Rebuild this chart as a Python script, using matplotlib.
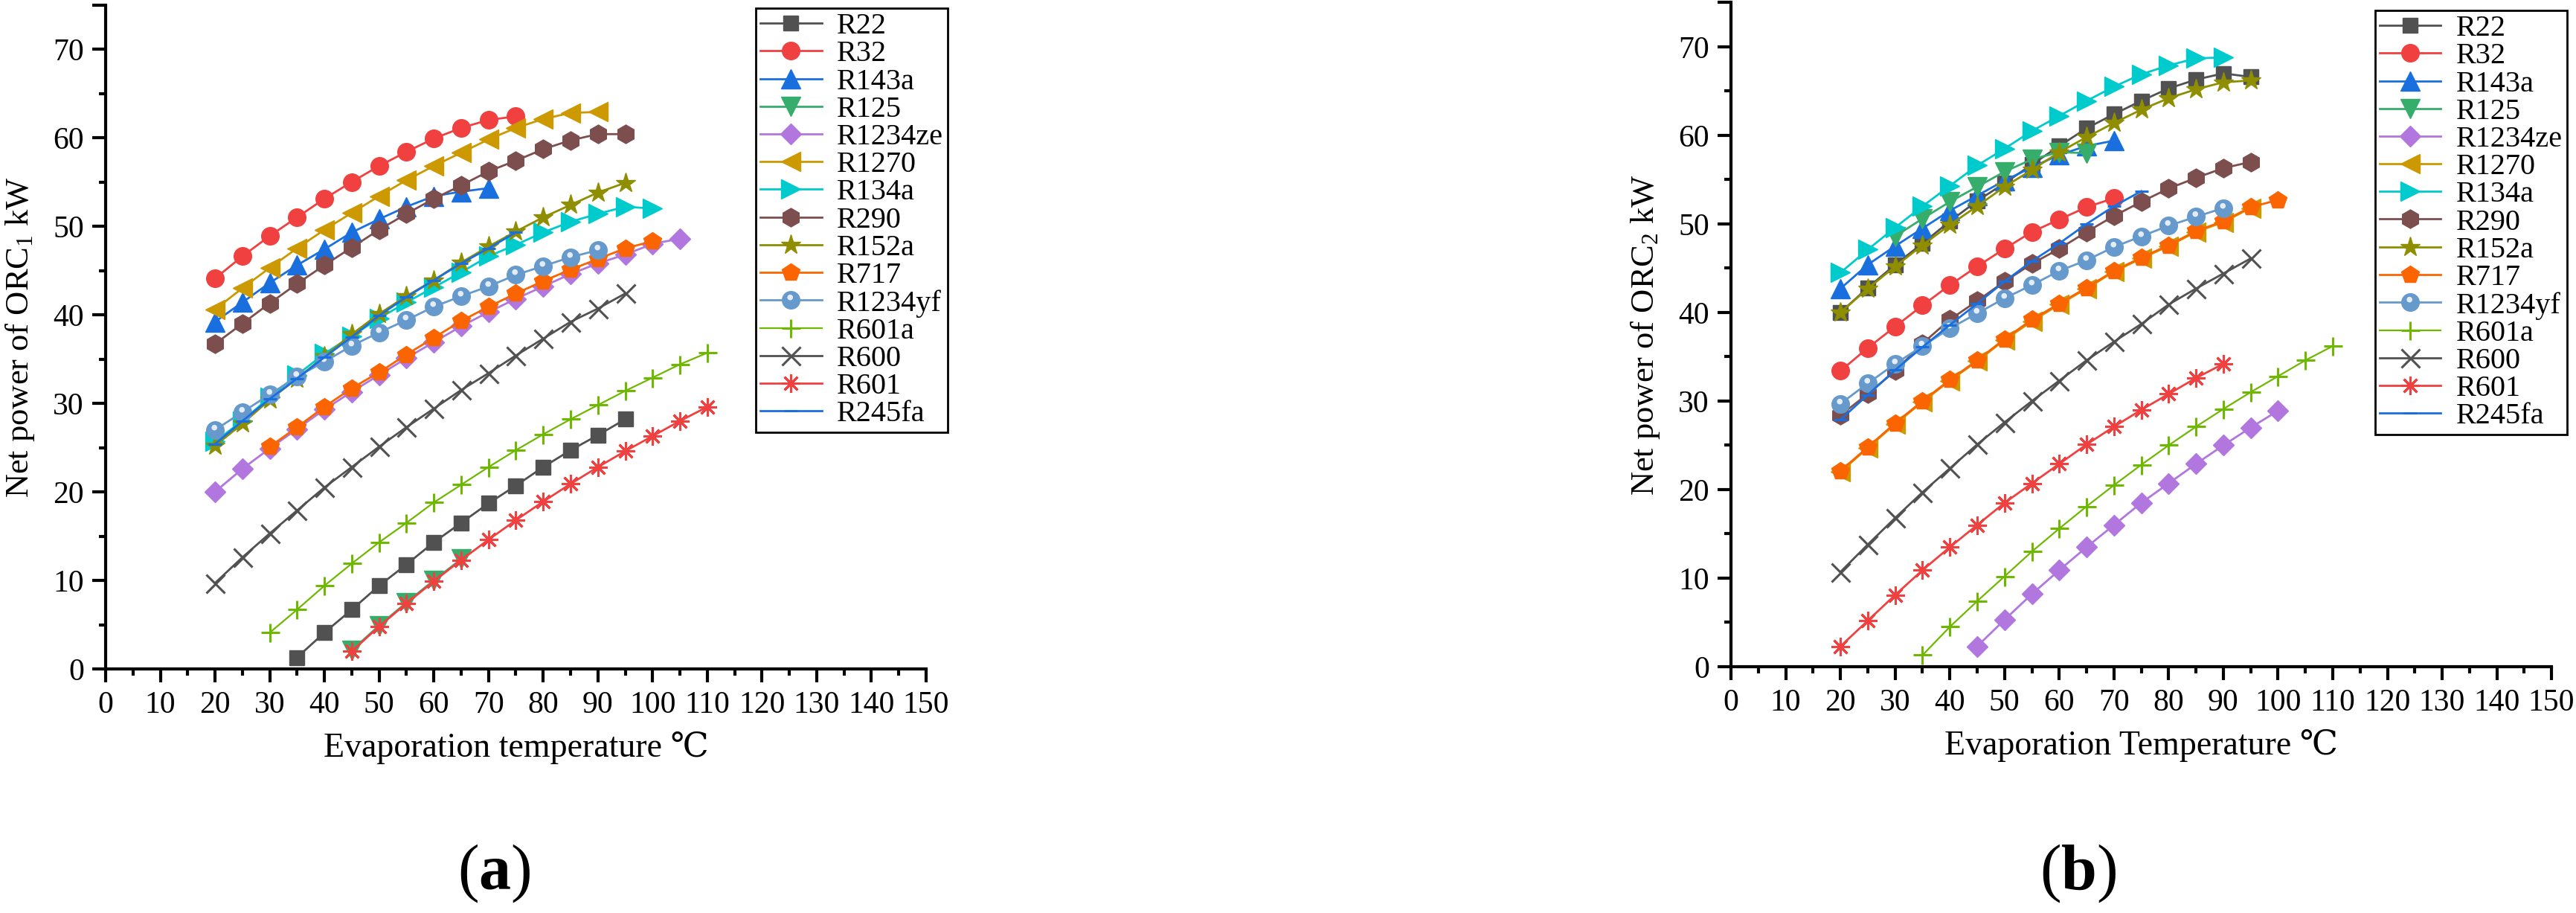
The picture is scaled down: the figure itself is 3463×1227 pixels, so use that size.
import matplotlib
matplotlib.use('Agg')
import matplotlib.pyplot as plt
from matplotlib.path import Path
from matplotlib.ticker import MultipleLocator

plt.rcParams['font.family'] = ['Liberation Serif', 'DejaVu Serif']
plt.rcParams['mathtext.fontset'] = 'custom'
plt.rcParams['mathtext.rm'] = 'Liberation Serif'
plt.rcParams['mathtext.it'] = 'Liberation Serif:italic'
plt.rcParams['mathtext.bf'] = 'Liberation Serif:bold'

names = ['R22', 'R32', 'R143a', 'R125', 'R1234ze', 'R1270', 'R134a', 'R290',
         'R152a', 'R717', 'R1234yf', 'R601a', 'R600', 'R601', 'R245fa']

# evaporation temperatures (degC)
T20_70 = [20, 25, 30, 35, 40, 45, 50, 55, 60, 65, 70]
T20_75 = [20, 25, 30, 35, 40, 45, 50, 55, 60, 65, 70, 75]
T20_90 = [20, 25, 30, 35, 40, 45, 50, 55, 60, 65, 70, 75, 80, 85, 90]
T20_95 = [20, 25, 30, 35, 40, 45, 50, 55, 60, 65, 70, 75, 80, 85, 90, 95]
T20_100 = [20, 25, 30, 35, 40, 45, 50, 55, 60, 65, 70, 75, 80, 85, 90, 95, 100]
T20_105 = [20, 25, 30, 35, 40, 45, 50, 55, 60, 65, 70, 75, 80, 85, 90, 95, 100, 105]
T30_65 = [30, 35, 40, 45, 50, 55, 60, 65]
T30_100 = [30, 35, 40, 45, 50, 55, 60, 65, 70, 75, 80, 85, 90, 95, 100]
T30_110 = [30, 35, 40, 45, 50, 55, 60, 65, 70, 75, 80, 85, 90, 95, 100, 105, 110]
T35_95 = [35, 40, 45, 50, 55, 60, 65, 70, 75, 80, 85, 90, 95]
T35_110 = [35, 40, 45, 50, 55, 60, 65, 70, 75, 80, 85, 90, 95, 100, 105, 110]
T45_65 = [45, 50, 55, 60, 65]
T45_100 = [45, 50, 55, 60, 65, 70, 75, 80, 85, 90, 95, 100]
T45_110 = [45, 50, 55, 60, 65, 70, 75, 80, 85, 90, 95, 100, 105, 110]

# (a) net power of ORC1, kW
orc1_R22 = [1.3, 4.1, 6.7, 9.4, 11.8, 14.3, 16.5, 18.7, 20.7, 22.8, 24.7, 26.4, 28.2]
orc1_R32 = [44.1, 46.6, 48.9, 51.0, 53.1, 55.0, 56.8, 58.4, 59.9, 61.1, 62.0, 62.4]
orc1_R143a = [39.2, 41.4, 43.6, 45.6, 47.4, 49.3, 50.8, 52.2, 53.4, 53.9, 54.3]
orc1_R125 = [2.1, 4.9, 7.5, 10.0, 12.4]
orc1_R1234ze = [20.0, 22.6, 24.9, 27.1, 29.3, 31.3, 33.2, 35.1, 36.9, 38.7, 40.3,
                41.8, 43.2, 44.6, 45.8, 46.8, 48.0, 48.6]
orc1_R1270 = [40.6, 43.0, 45.3, 47.5, 49.6, 51.5, 53.4, 55.2, 56.8, 58.3, 59.8,
              61.1, 62.1, 62.8, 62.9]
orc1_R134a = [25.7, 28.0, 30.7, 33.2, 35.6, 37.6, 39.6, 41.4, 43.1, 44.8, 46.6,
              47.9, 49.3, 50.5, 51.4, 52.2, 52.0]
orc1_R290 = [36.7, 39.0, 41.3, 43.5, 45.6, 47.6, 49.6, 51.4, 53.1, 54.6, 56.2,
             57.4, 58.7, 59.7, 60.4, 60.4]
orc1_R152a = [25.2, 27.7, 30.4, 32.8, 35.3, 37.8, 40.1, 42.1, 43.9, 45.9, 47.7,
              49.4, 51.0, 52.4, 53.8, 54.9]
orc1_R717 = [25.1, 27.3, 29.6, 31.7, 33.5, 35.5, 37.4, 39.3, 40.9, 42.4, 43.8,
             45.1, 46.3, 47.5, 48.3]
orc1_R1234yf = [27.0, 29.0, 31.0, 33.0, 34.7, 36.5, 38.0, 39.4, 40.9, 42.1, 43.2,
                44.5, 45.5, 46.5, 47.3]
orc1_R601a = [4.1, 6.7, 9.4, 11.9, 14.3, 16.5, 18.8, 20.8, 22.8, 24.7, 26.5, 28.2,
              29.8, 31.4, 32.9, 34.4, 35.7]
orc1_R600 = [9.7, 12.6, 15.3, 17.9, 20.5, 22.8, 25.1, 27.3, 29.4, 31.5, 33.4, 35.4,
             37.3, 39.2, 40.7, 42.4]
orc1_R601 = [2.0, 4.8, 7.4, 9.9, 12.3, 14.6, 16.8, 18.9, 20.9, 22.8, 24.6, 26.3,
             28.0, 29.6]
orc1_R245fa = [25.4, 28.0, 30.5, 32.8, 35.2, 37.5, 39.9, 42.0, 43.9, 45.8, 47.5, 49.3]

# (b) net power of ORC2, kW
orc2_R22 = [40.0, 42.8, 45.4, 47.8, 50.3, 52.6, 54.6, 56.7, 58.8, 60.8, 62.4, 63.9,
            65.3, 66.3, 67.0, 66.6]
orc2_R32 = [33.4, 36.0, 38.4, 40.8, 43.1, 45.2, 47.2, 49.1, 50.5, 51.9, 52.9]
orc2_R143a = [42.7, 45.4, 47.5, 49.5, 51.5, 53.2, 54.9, 56.4, 57.8, 58.8, 59.4]
orc2_R125 = [48.6, 50.6, 52.5, 54.2, 55.9, 57.3, 58.1, 58.0]
orc2_R1234ze = [2.3, 5.3, 8.2, 10.9, 13.5, 16.0, 18.5, 20.7, 22.9, 25.0, 27.0, 28.9]
orc2_R1270 = [22.0, 24.7, 27.4, 29.9, 32.3, 34.5, 36.9, 39.0, 40.9, 42.7, 44.6,
              46.1, 47.5, 49.1, 50.2, 51.8]
orc2_R134a = [44.5, 47.1, 49.6, 52.0, 54.3, 56.6, 58.5, 60.5, 62.2, 63.9, 65.5,
              66.9, 67.9, 68.7, 68.8]
orc2_R290 = [28.4, 30.8, 33.4, 36.5, 39.2, 41.3, 43.5, 45.5, 47.2, 49.1, 50.9,
             52.5, 54.0, 55.2, 56.3, 57.0]
orc2_R152a = [40.0, 42.7, 45.2, 47.6, 49.9, 52.0, 54.2, 56.1, 58.1, 59.8, 61.4,
              62.9, 64.2, 65.2, 66.0, 66.2]
orc2_R717 = [22.1, 24.8, 27.5, 30.0, 32.4, 34.6, 37.0, 39.2, 41.0, 42.8, 44.7,
             46.2, 47.6, 49.2, 50.3, 51.9, 52.7]
orc2_R1234yf = [29.7, 32.0, 34.2, 36.2, 38.2, 39.9, 41.6, 43.1, 44.7, 45.9, 47.4,
                48.6, 49.8, 50.8, 51.8]
orc2_R601a = [1.3, 4.5, 7.4, 10.2, 13.0, 15.6, 18.1, 20.5, 22.8, 25.0, 27.1, 29.1,
              31.0, 32.8, 34.6, 36.2]
orc2_R600 = [10.7, 13.8, 16.8, 19.7, 22.4, 25.1, 27.6, 30.0, 32.3, 34.6, 36.7,
             38.7, 40.9, 42.7, 44.4, 46.1]
orc2_R601 = [2.3, 5.2, 8.1, 10.9, 13.5, 16.0, 18.5, 20.7, 22.9, 25.1, 27.1, 29.0,
             30.8, 32.6, 34.2]
orc2_R245fa = [27.9, 30.7, 33.5, 36.1, 38.6, 41.0, 43.5, 45.8, 47.8, 50.0, 52.0, 53.7]

panel_a = [(T35_95, orc1_R22), (T20_75, orc1_R32), (T20_70, orc1_R143a),
           (T45_65, orc1_R125), (T20_105, orc1_R1234ze), (T20_90, orc1_R1270),
           (T20_100, orc1_R134a), (T20_95, orc1_R290), (T20_95, orc1_R152a),
           (T30_100, orc1_R717), (T20_90, orc1_R1234yf), (T30_110, orc1_R601a),
           (T20_95, orc1_R600), (T45_110, orc1_R601), (T20_75, orc1_R245fa)]
panel_b = [(T20_95, orc2_R22), (T20_70, orc2_R32), (T20_70, orc2_R143a),
           (T30_65, orc2_R125), (T45_100, orc2_R1234ze), (T20_95, orc2_R1270),
           (T20_90, orc2_R134a), (T20_95, orc2_R290), (T20_95, orc2_R152a),
           (T20_100, orc2_R717), (T20_90, orc2_R1234yf), (T35_110, orc2_R601a),
           (T20_95, orc2_R600), (T20_90, orc2_R601), (T20_75, orc2_R245fa)]

# marker, colour, marker size
styles = {
    'R22': ('s', '#515151', 15),
    'R32': ('o', '#F14040', 17),
    'R143a': ('^', '#1A6FDF', 19),
    'R125': ('v', '#37AD6B', 19),
    'R1234ze': ('D', '#B177DE', 14),
    'R1270': ('<', '#CC9900', 19),
    'R134a': ('>', '#00CBCC', 19),
    'R290': ('h', '#7D4E4E', 18),
    'R152a': ('*', '#8E8E00', 20),
    'R717': ('p', '#FB6501', 18),
    'R1234yf': ('o', '#6699CC', 17),
    'R601a': ('+', '#6FB802', 18),
    'R600': ('x', '#515151', 18),
    'R601': ((8, 2, 0), '#F14040', 18),
    'R245fa': ('_', '#1A6FDF', 13),
}
open_markers = ['+', 'x', (8, 2, 0), '_']
shine = Path.circle(center=(-0.1, 0.3), radius=0.3)


def draw_panel(ax, data, ylabel, xlabel, leg_anchor):
    handles = []
    for name, (t, p) in zip(names, data):
        mk, col, ms = styles[name]
        mew = 2.2 if mk in open_markers else 1
        lw = 1.6 if name == 'R601a' else 2.0
        line, = ax.plot(t, p, color=col, lw=lw, marker=mk, ms=ms, mfc=col, mec=col,
                        mew=mew, clip_on=False)
        if name == 'R1234yf':
            hl, = ax.plot(t, p, ls='none', marker=shine, ms=11, mfc='#E4EDF7',
                          mec='none', clip_on=False)
            handles.append((line, hl))
        else:
            handles.append(line)

    ax.set_xlim(0, 150)
    ax.set_ylim(0, 75)
    ax.xaxis.set_major_locator(MultipleLocator(10))
    ax.xaxis.set_minor_locator(MultipleLocator(5))
    ax.set_yticks([0, 10, 20, 30, 40, 50, 60, 70, 75],
                  ['0', '10', '20', '30', '40', '50', '60', '70', ''])
    ax.set_yticks([5, 15, 25, 35, 45, 55, 65], minor=True)
    for s in ['top', 'right']:
        ax.spines[s].set_visible(False)
    for s in ['left', 'bottom']:
        ax.spines[s].set_linewidth(3)
    ax.tick_params(which='major', direction='out', length=13, width=3,
                   labelsize=30, pad=8)
    ax.tick_params(which='minor', direction='out', length=6.5, width=3)
    ax.set_ylabel(ylabel, fontsize=32, labelpad=16)
    ax.set_xlabel(xlabel, fontsize=33, labelpad=12)

    leg = fig.legend(handles, names, loc='upper left', bbox_to_anchor=leg_anchor,
                     bbox_transform=fig.transFigure, fontsize=29, frameon=True,
                     fancybox=False, framealpha=1, edgecolor='black',
                     borderpad=0.15, borderaxespad=0, labelspacing=0.0,
                     handlelength=2.05, handletextpad=0.5, numpoints=1)
    leg.get_frame().set_linewidth(2)


fig = plt.figure(figsize=(34.63, 12.27), dpi=100)
ax1 = fig.add_axes([0.0410, 0.2673, 0.3185, 0.7274])
ax2 = fig.add_axes([0.6720, 0.2698, 0.3185, 0.7274])

draw_panel(ax1, panel_a, r'Net power of ORC$_{\rm 1}$ kW',
           'Evaporation temperature \u2103', (0.2934, 0.9910))
draw_panel(ax2, panel_b, r'Net power of ORC$_{\rm 2}$ kW',
           'Evaporation Temperature \u2103', (0.9220, 0.9886))

fig.text(0.1917, 0.0432, r'($\mathbf{a}$)', fontsize=62, ha='center', va='center')
fig.text(0.8068, 0.0432, r'($\mathbf{b}$)', fontsize=62, ha='center', va='center')

fig.savefig('out.png', dpi=100)
